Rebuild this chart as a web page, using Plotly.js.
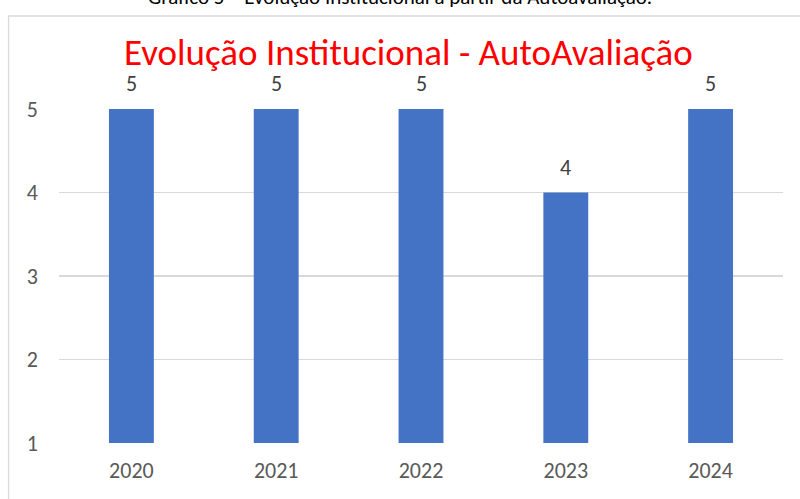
<!DOCTYPE html>
<html><head><meta charset="utf-8">
<script src="https://cdn.plot.ly/plotly-3.0.1.min.js"></script>
<style>html,body{margin:0;padding:0;background:#fff}#c{width:800px;height:499px}</style>
</head><body><div id="c"></div>
<script>
const years = ['2020','2021','2022','2023','2024'];
const values = [5, 5, 5, 4, 5];
const yTicks = [1, 2, 3, 4, 5];

const font = 'Carlito, "Liberation Sans Narrow", "Open Sans", sans-serif';
const labels = years.map((y, i) => ({
  x: i, y: values[i], xref: 'x', yref: 'y', text: String(values[i]),
  showarrow: false, yanchor: 'bottom', yshift: 10,
  font: {family: font, size: 22, color: '#404040'}
}));

const data = [{
  type: 'bar', x: years, y: values, width: 0.31,
  marker: {color: '#4472C4'}, hoverinfo: 'none'
}];

const layout = {
  width: 800, height: 499,
  margin: {l: 58.5, r: 16.5, t: 109, b: 56},
  paper_bgcolor: '#fff', plot_bgcolor: '#fff',
  showlegend: false,
  xaxis: {type: 'category', range: [-0.5, 4.5], autorange: false, showgrid: false, zeroline: false, showline: false,
    ticks: '', ticklabelstandoff: 12, tickfont: {family: font, size: 22, color: '#595959'}},
  yaxis: {range: [1, 5], autorange: false, tickvals: yTicks, showgrid: true, gridcolor: '#D9D9D9', gridwidth: 1.3,
    zeroline: false, showline: false, ticks: '', ticklabelstandoff: 20,
    tickfont: {family: font, size: 22, color: '#595959'}},
  shapes: [{type: 'rect', xref: 'paper', yref: 'paper', x0: -0.0697, x1: 1.03, y0: -0.2, y1: 1.2784,
    line: {color: '#D9D9D9', width: 1.3}, layer: 'below'}],
  annotations: labels.concat([
    {xref: 'paper', yref: 'paper', x: 0.483, y: 1.168, xanchor: 'center', yanchor: 'middle',
     text: 'Evolução Institucional - AutoAvaliação', showarrow: false,
     font: {family: font, size: 37, color: '#FF0000'}},
    {xref: 'paper', yref: 'paper', x: 0.471, y: 1.29, xanchor: 'center', yanchor: 'bottom',
     text: 'Gráfico 5 – Evolução Institucional a partir da Autoavaliação.', showarrow: false,
     font: {family: font, size: 21, color: '#000'}}
  ])
};
Plotly.newPlot('c', data, layout, {displayModeBar: false, staticPlot: true});
</script></body></html>
